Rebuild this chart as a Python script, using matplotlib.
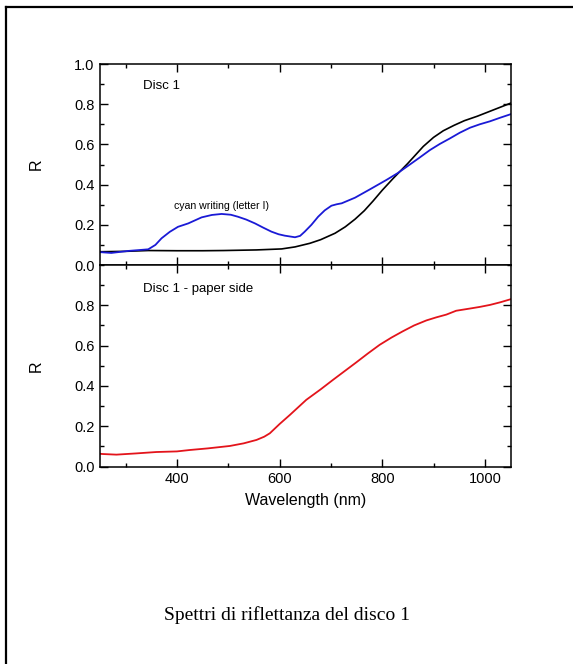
import numpy as np
import matplotlib.pyplot as plt
from matplotlib.lines import Line2D
from matplotlib.ticker import MultipleLocator

# Disc 1, ink side
wl_blue = [250, 272, 305, 344, 358, 370, 386, 402, 422, 448, 468, 487, 505,
           519, 535, 552, 568, 584, 598, 610, 630, 640, 649, 662, 675, 688,
           701, 711, 721, 747, 775, 808, 830, 850, 872, 893, 912, 932, 951,
           971, 990, 1010, 1030, 1050]
r_blue = [0.064, 0.060, 0.070, 0.078, 0.100, 0.133, 0.165, 0.190, 0.207, 0.237,
          0.249, 0.254, 0.250, 0.240, 0.226, 0.207, 0.186, 0.166, 0.153, 0.146,
          0.138, 0.145, 0.166, 0.200, 0.240, 0.272, 0.295, 0.302, 0.307, 0.335,
          0.375, 0.423, 0.457, 0.493, 0.533, 0.572, 0.602, 0.630, 0.658,
          0.683, 0.700, 0.715, 0.733, 0.750]

wl_black = [250, 300, 344, 400, 450, 491, 555, 604, 630, 659, 680, 708, 728,
            747, 765, 782, 800, 821, 850, 880, 900, 919, 940, 960, 985, 1010,
            1030, 1050]
r_black = [0.066, 0.068, 0.072, 0.071, 0.071, 0.072, 0.075, 0.080, 0.090, 0.108,
           0.126, 0.158, 0.190, 0.228, 0.270, 0.318, 0.372, 0.430, 0.506, 0.590,
           0.635, 0.668, 0.695, 0.718, 0.740, 0.765, 0.785, 0.805]

# Disc 1, paper side
wl_red = [250, 256, 282, 320, 360, 400, 425, 460, 503, 530, 555, 570, 581, 600,
          620, 652, 680, 704, 727, 749, 772, 795, 818, 840, 862, 886, 905, 925,
          944, 971, 990, 1010, 1030, 1050]
r_red = [0.063, 0.062, 0.059, 0.065, 0.072, 0.075, 0.082, 0.090, 0.102, 0.115,
         0.132, 0.148, 0.165, 0.211, 0.256, 0.331, 0.383, 0.430, 0.474, 0.516,
         0.561, 0.604, 0.640, 0.671, 0.700, 0.725, 0.740, 0.754, 0.773, 0.784,
         0.792, 0.802, 0.815, 0.830]

plt.rcParams['font.family'] = ['Liberation Sans', 'DejaVu Sans']

fig = plt.figure(figsize=(5.73, 6.64), dpi=100)
left, width = 0.1745, 0.7165
ax1 = fig.add_axes([left, 0.6009, width, 0.3027])
ax2 = fig.add_axes([left, 0.2974, width, 0.3035], sharex=ax1)

ax1.plot(wl_black, r_black, color='black', lw=1.2)
ax1.plot(wl_blue, r_blue, color='#1a1ad6', lw=1.3)
ax2.plot(wl_red, r_red, color='#e3141b', lw=1.3)

for ax in (ax1, ax2):
    ax.set_xlim(250, 1050)
    ax.set_ylim(0, 1.0)
    ax.xaxis.set_major_locator(MultipleLocator(200))
    ax.xaxis.set_minor_locator(MultipleLocator(100))
    ax.yaxis.set_major_locator(MultipleLocator(0.2))
    ax.yaxis.set_minor_locator(MultipleLocator(0.1))
    ax.tick_params(which='both', direction='in', top=True, right=True,
                   labelsize=10.5, width=1.0, pad=4)
    ax.tick_params(which='major', length=6)
    ax.tick_params(which='minor', length=3)
    for s in ax.spines.values():
        s.set_linewidth(1.1)
    ax.yaxis.set_major_formatter(plt.FormatStrFormatter('%.1f'))
    ax.set_ylabel('R', fontsize=11.5, labelpad=22)

ax1.tick_params(labelbottom=False)
ax2.set_yticks([0.0, 0.2, 0.4, 0.6, 0.8])
ax2.set_xlabel('Wavelength (nm)', fontsize=11.5, labelpad=5)

ax1.text(334, 0.89, 'Disc 1', fontsize=9.5, ha='left', va='center')
ax1.text(487, 0.294, 'cyan writing (letter I)', fontsize=7.6, ha='center', va='center')
ax2.text(334, 0.883, 'Disc 1 - paper side', fontsize=9.5, ha='left', va='center')

fig.text(0.5, 0.074, 'Spettri di riflettanza del disco 1', ha='center', va='center',
         fontsize=14, family='Liberation Serif')

# frame around the figure (left and top edges visible)
fig.add_artist(Line2D([6 / 573, 6 / 573], [0, 1 - 7 / 664], transform=fig.transFigure,
                      color='black', lw=1.6))
fig.add_artist(Line2D([6 / 573, 1], [1 - 7 / 664, 1 - 7 / 664], transform=fig.transFigure,
                      color='black', lw=1.6))

fig.savefig('out.png', dpi=100)
